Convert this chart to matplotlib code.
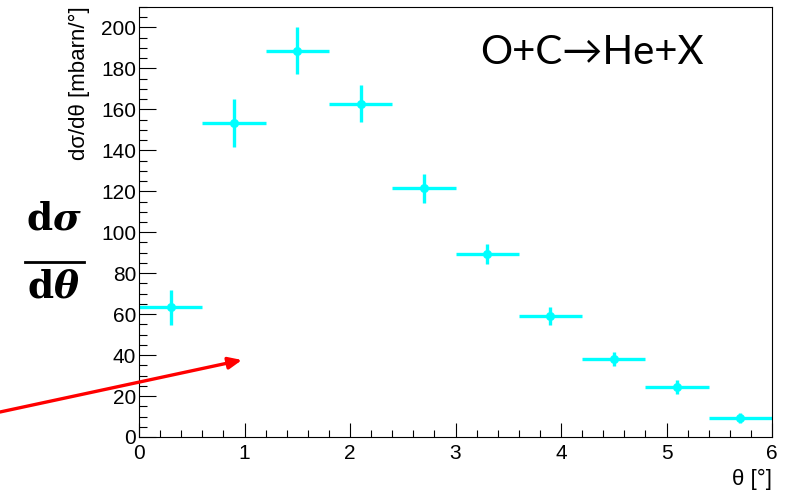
import matplotlib
matplotlib.use("Agg")
import matplotlib.pyplot as plt
from matplotlib.ticker import MultipleLocator
import numpy as np

# data
theta = np.array([0.3, 0.9, 1.5, 2.1, 2.7, 3.3, 3.9, 4.5, 5.1, 5.7])
theta_err = np.full(theta.size, 0.3)
xsec = np.array([63.3, 153.3, 188.6, 162.8, 121.4, 89.4, 59.0, 38.1, 24.3, 9.3])
xsec_err = np.array([8.5, 11.7, 11.4, 9.0, 7.0, 5.0, 4.5, 3.6, 3.4, 2.6])

title = "O+C\u2192He+X"
ylabel = "d\u03c3/d\u03b8 [mbarn/\u00b0]"
xlabel = "\u03b8 [\u00b0]"

plt.rcParams["mathtext.fontset"] = "dejavuserif"

W, H = 785, 491
fig = plt.figure(figsize=(W / 100, H / 100), dpi=100)
ax = fig.add_axes([139 / W, 1 - 437 / H, (772 - 139) / W, (437 - 7) / H])

ax.errorbar(theta, xsec, xerr=theta_err, yerr=xsec_err, fmt="o",
            color="#00ffff", ms=5.5, elinewidth=2.4, capsize=0)

ax.set_xlim(0, 6)
ax.set_ylim(0, 210)
ax.xaxis.set_major_locator(MultipleLocator(1))
ax.xaxis.set_minor_locator(MultipleLocator(0.2))
ax.yaxis.set_major_locator(MultipleLocator(20))
ax.yaxis.set_minor_locator(MultipleLocator(5))
ax.tick_params(which="both", direction="in", top=False, right=False,
               labelsize=15, width=0.8)
ax.tick_params(axis="x", which="major", length=10, pad=5)
ax.tick_params(axis="x", which="minor", length=5)
ax.tick_params(axis="y", which="major", length=12, pad=2)
ax.tick_params(axis="y", which="minor", length=6)
for s in ax.spines.values():
    s.set_linewidth(0.8)

for lab in ax.get_xticklabels() + ax.get_yticklabels():
    lab.set_family("Liberation Sans")

ax.text(0.715, 0.895, title, transform=ax.transAxes, fontsize=29,
        family=["Lato", "DejaVu Sans"], ha="center", va="center")

fig.text(79 / W, 1 - 6 / H, ylabel, rotation=90, fontsize=16,
         family="Liberation Sans", ha="center", va="top")
fig.text(772 / W, 1 - 479 / H, xlabel, fontsize=16,
         family="Liberation Sans", ha="right", va="center")

# big fraction on the left
fig.text(54 / W, 1 - 220 / H, r"$\mathbf{d}\boldsymbol{\sigma}$", fontsize=27,
         ha="center", va="center")
fig.text(54 / W, 1 - 288 / H, r"$\mathbf{d}\boldsymbol{\theta}$", fontsize=27,
         ha="center", va="center")
fig.add_artist(plt.Line2D([25 / W, 84 / W], [1 - 262 / H, 1 - 262 / H],
                          color="black", lw=2, transform=fig.transFigure))

ax.annotate("", xy=(242 / W, 1 - 360 / H), xytext=(0, 1 - 412 / H),
            xycoords="figure fraction", textcoords="figure fraction",
            arrowprops=dict(arrowstyle="-|>,head_length=0.8,head_width=0.35",
                            color="#ff0000", lw=2.4, shrinkA=0, shrinkB=0),
            annotation_clip=False)

fig.savefig("out.png", dpi=100)
